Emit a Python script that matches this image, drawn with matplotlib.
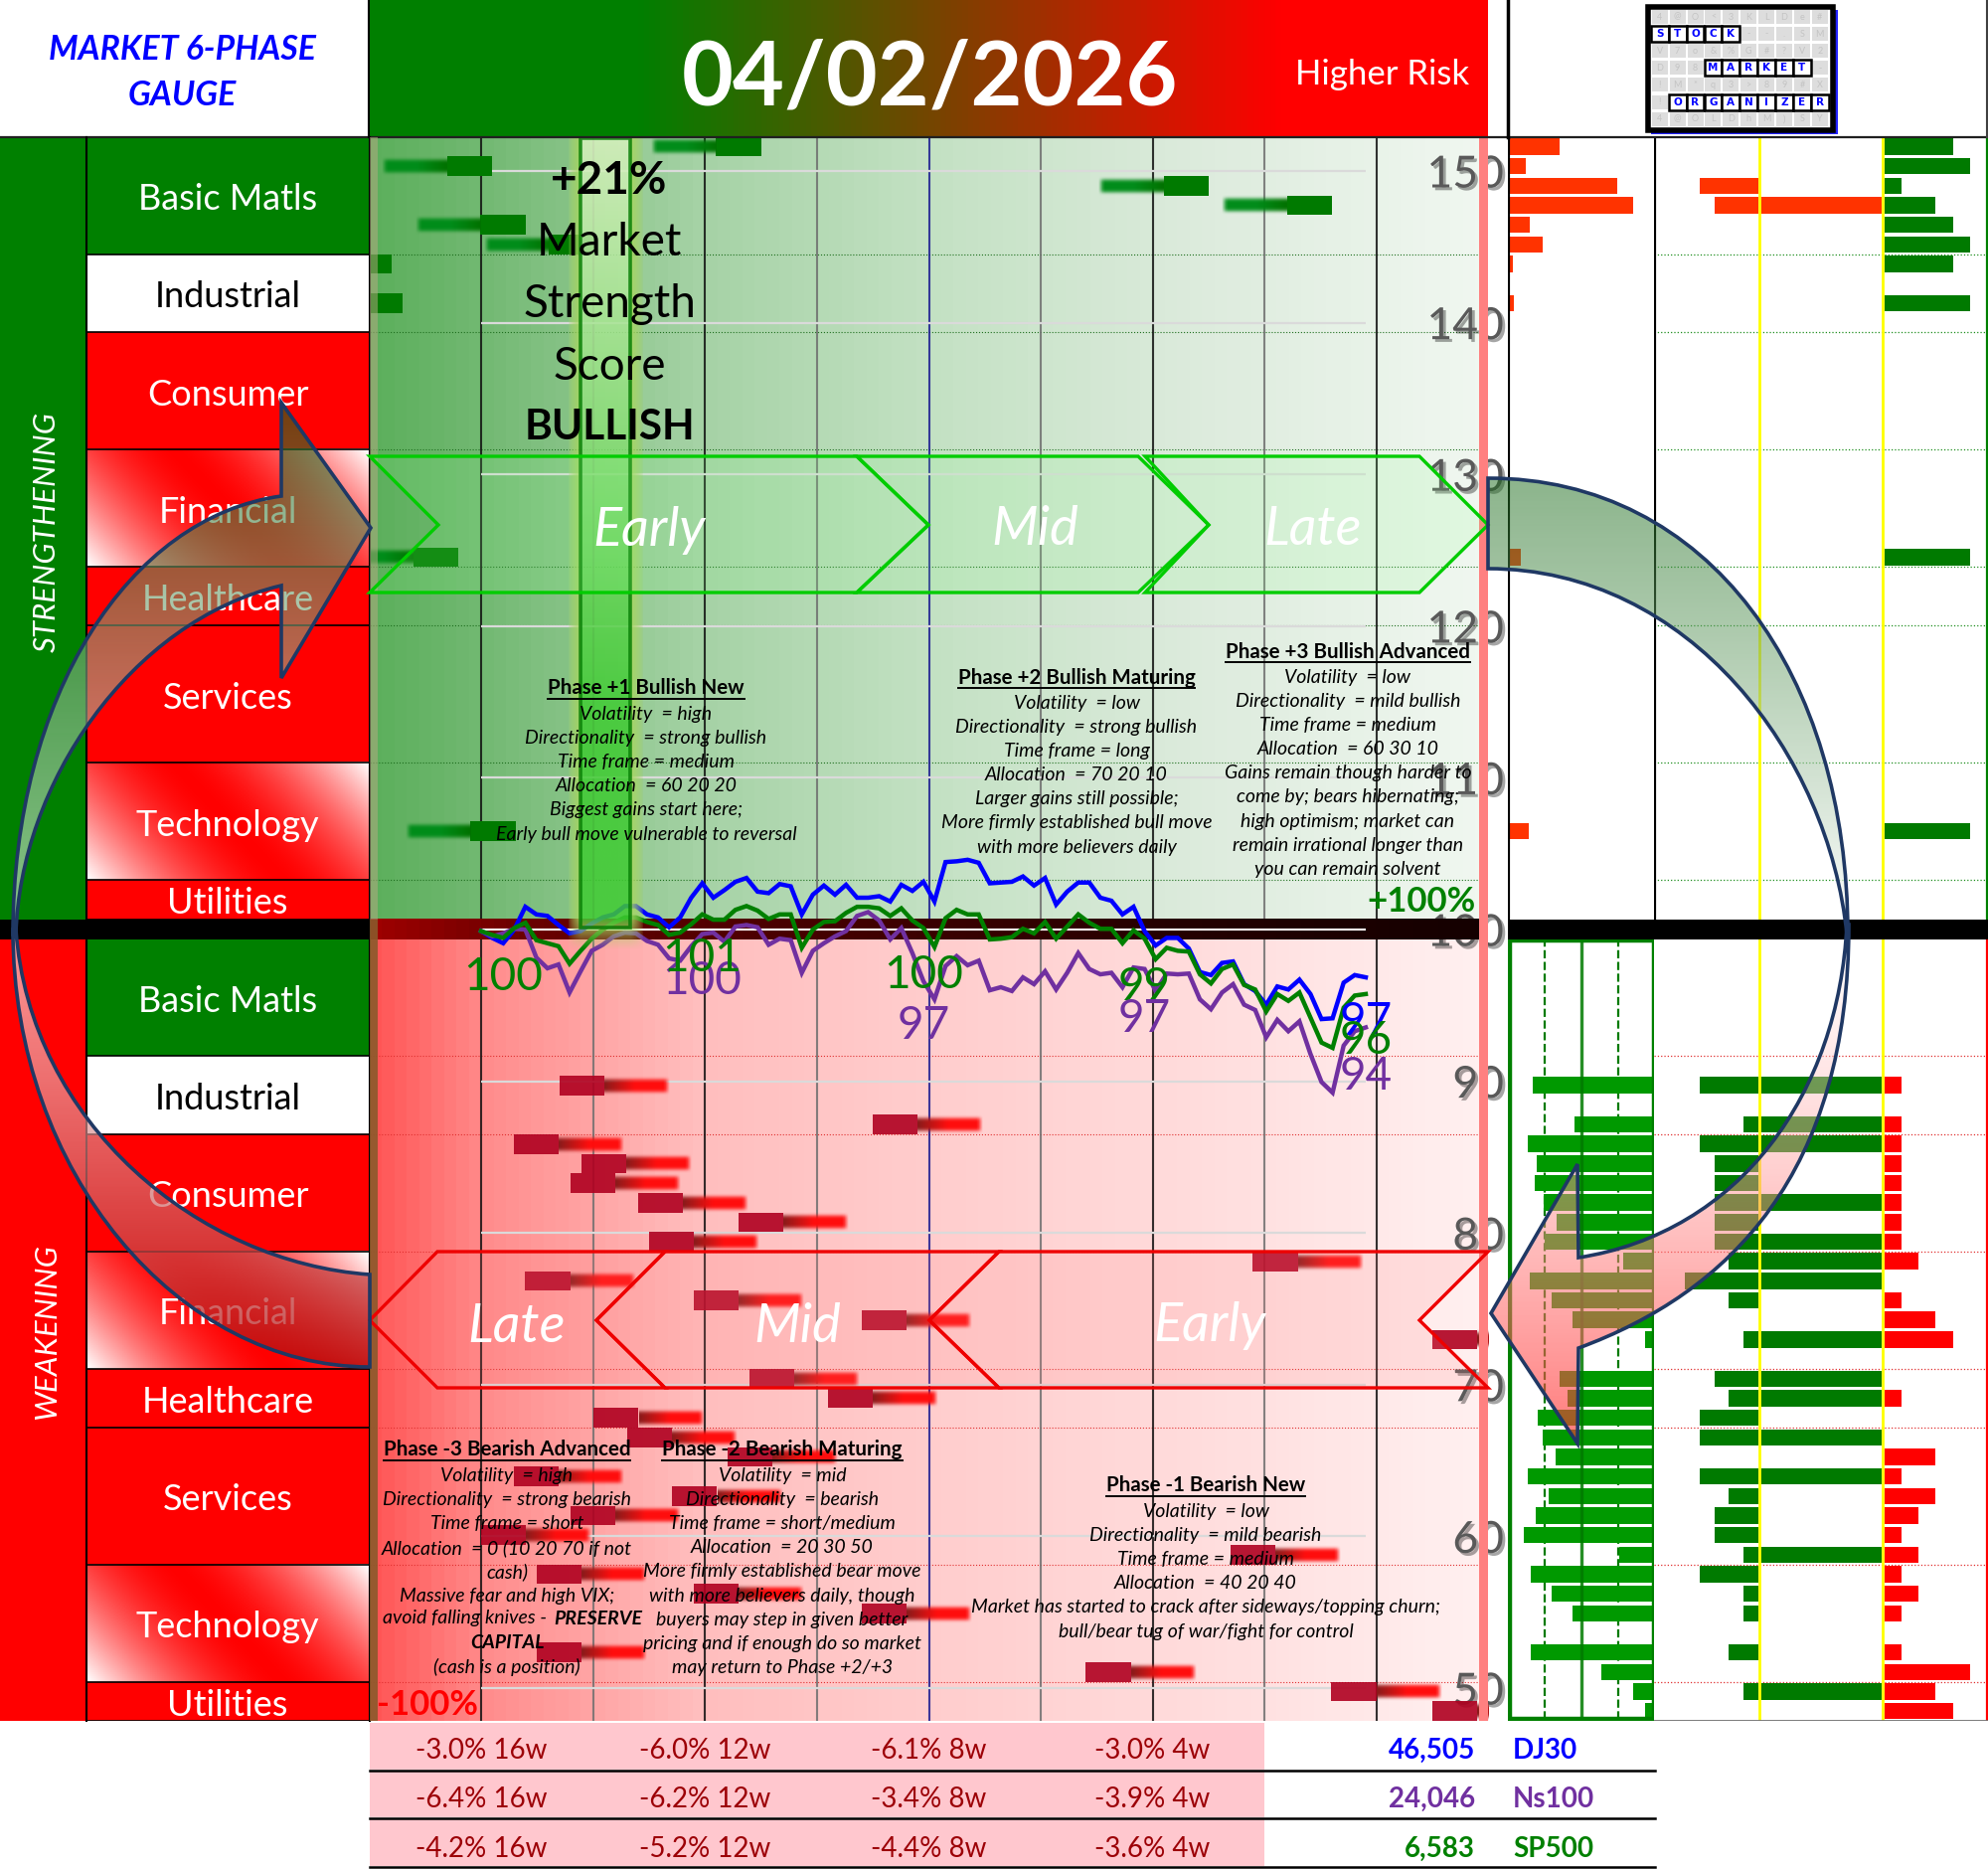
# Market 6-phase gauge, drawn in pixel layout on top of a few small axes
import numpy as np
import matplotlib
matplotlib.use("Agg")
import matplotlib.pyplot as plt
import matplotlib.patheffects as pe
from matplotlib.patches import Rectangle, Polygon, PathPatch
from matplotlib.path import Path

plt.rcParams['font.family'] = ['Lato', 'DejaVu Sans']

# ---- data ----
sector_names = ["Basic Matls", "Industrial", "Consumer", "Financial", "Healthcare", "Services", "Technology", "Utilities"]
sector_rows = [6, 4, 6, 6, 3, 7, 6, 2]
sector_fill = ["green", "white", "red", "grad", "red", "red", "grad", "red"]

# index lines, value against the 100 start
dj30 = [99.9, 99.45, 99.1, 100, 101.5, 101.0, 100.9, 100.3, 99.75, 99.9, 100.4, 100.8, 101.0, 101.55, 101.55, 101.0,
        100.8, 100.15, 100.8, 102.1, 103.05, 102.1, 102.6, 103.15, 103.4, 102.5, 102.4, 103.0, 102.85, 101.0, 102.3,
        102.9, 102.3, 102.95, 102.1, 102.1, 102.2, 101.85, 102.95, 102.55, 103.15, 101.85, 104.45, 104.5, 104.6, 104.4,
        103.05, 103.1, 103.15, 103.5, 102.9, 103.4, 101.65, 102.5, 103.1, 103.1, 102.1, 101.9, 101.0, 101.5, 99.9, 98.95,
        99.45, 99.45, 98.75, 97.2, 97, 97.8, 97.9, 96.4, 95.95, 95.05, 96.25, 96.05, 96.7, 95.75, 94.1, 94.15, 96.5, 97, 96.85]
sp500 = [99.9, 99.65, 99.45, 100.1, 100.45, 99.3, 99.1, 98.9, 97.75, 98.6, 99.4, 100, 100.45, 100.8, 100.8, 100.5, 100.3,
         99.65, 99.8, 100.35, 101, 100.65, 100.65, 101.3, 101.55, 101.25, 100.7, 101, 101, 98.8, 100, 100.5, 100.55, 101.1,
         101.5, 101.5, 101.4, 100.9, 101.4, 100.6, 100.1, 98.85, 100.75, 101.3, 101, 101, 99.35, 99.4, 99.5, 100.05, 99.75,
         100.5, 99.4, 100.2, 101, 100.45, 100.05, 100.05, 99.1, 99.95, 99.4, 98.05, 98.8, 98.6, 98.55, 97.05, 96.45, 97.4,
         97.7, 96.35, 96.05, 94.6, 95.75, 95.3, 95.85, 94.2, 92.55, 92.2, 94.85, 95.65, 95.75]
ns100 = [99.9, 99.55, 99.75, 100.05, 100, 98.15, 97.45, 97.7, 95.85, 97.25, 98.6, 99, 99.55, 99.8, 99.75, 99.25, 99, 98.1,
         97.95, 98.9, 99.7, 99.8, 99.2, 100.2, 100.3, 100.15, 99, 99.4, 99.3, 97.15, 98.6, 99.1, 99.55, 99.9, 100.9, 101.15,
         100.6, 99.35, 100.1, 98.45, 96.6, 95.4, 97.6, 98.25, 97.65, 97.95, 96, 96.2, 95.95, 96.85, 96.4, 97.25, 96.05, 97.15,
         98.45, 97.4, 97.05, 97.15, 96.2, 97.5, 97.4, 95.95, 97.1, 97.05, 97.1, 95.4, 94.75, 95.85, 96.4, 95.05, 94.7, 92.9,
         94.05, 93.3, 93.95, 91.8, 89.95, 89.25, 92.35, 93.3, 93.55]

# rows of the gauge that carry a green / red block, and where the block sits on the time axis
green_rows = [0, 1, 2, 3, 4, 5, 6, 8, 21, 35]
green_ends = [25.3, 1, 65.8, 76.9, 4, 10.2, -8.1, -7.1, -2.1, 3.1]
red_rows = [48, 50, 51, 52, 53, 54, 55, 56, 57, 58, 59, 60, 61, 63, 64, 65, 66, 67, 68, 69, 70, 71, 72, 73, 74, 75, 77, 78, 79, 80]
red_starts = [7.1, 35.4, 3, 9.1, 8.1, 14.2, 23.3, 15.2, 69.8, 4, 19.2, 34.4, 86, 24.3, 31.4, 10.2, 13.2, 22.3, 3, 17.3, 8.1, 0,
              67.8, 5, 19.2, 34.4, 5, 54.7, 76.9, 86]

# side panels, upper half
up_rows = [0, 1, 2, 3, 4, 5, 6, 8, 21, 35]
up_first = [50, 16, 108, 124, 20, 33, 3, 4, 11, 19]
up_left = [0, 0, 4, 3, 0, 0, 0, 0, 0, 0]
up_mid = [0, 0, 0, 1, 0, 0, 0, 0, 0, 0]
up_right = [4, 5, 1, 3, 4, 5, 4, 5, 5, 5]

# side panels, lower half
low_rows = [48, 50, 51, 52, 53, 54, 55, 56, 57, 58, 59, 60, 61, 63, 64, 65, 66, 67, 68, 69, 70, 71, 72, 73, 74, 75, 77, 78, 79, 80]
low_first = [121, 79, 126, 117, 119, 110, 97, 109, 30, 124, 102, 81, 8, 94, 86, 116, 111, 98, 126, 105, 118, 130, 34, 123, 102, 81, 123, 52, 20, 8]
low_left = [4, 1, 4, 3, 3, 3, 3, 3, 2, 5, 2, 0, 1, 3, 2, 4, 4, 0, 4, 2, 3, 3, 1, 4, 1, 1, 2, 0, 1, 0]
low_mid = [1, 1, 1, 0, 0, 1, 0, 1, 1, 1, 0, 0, 1, 1, 1, 0, 1, 0, 1, 0, 0, 0, 1, 0, 0, 0, 0, 0, 1, 0]
low_right = [1, 1, 1, 1, 1, 1, 1, 1, 2, 0, 1, 3, 4, 0, 1, 0, 0, 3, 1, 3, 2, 1, 2, 1, 2, 1, 1, 5, 3, 4]

y_ticks = [150, 140, 130, 120, 110, 100, 90, 80, 70, 60, 50]

# bottom table
table_weeks = ["16w", "12w", "8w", "4w"]
table_dj = ["-3.0%", "-6.0%", "-6.1%", "-3.0%"]
table_ns = ["-6.4%", "-6.2%", "-3.4%", "-3.9%"]
table_sp = ["-4.2%", "-5.2%", "-4.4%", "-3.6%"]
table_names = ["DJ30", "Ns100", "SP500"]
table_last = ["46,505", "24,046", "6,583"]
table_colors = ["#0000FF", "#7030A0", "#008000"]

phase_p1 = ["Volatility  = high", "Directionality  = strong bullish", "Time frame = medium", "Allocation  = 60 20 20",
            "Biggest gains start here;", "Early bull move vulnerable to reversal"]
phase_p2 = ["Volatility  = low", "Directionality  = strong bullish", "Time frame = long", "Allocation  = 70 20 10",
            "Larger gains still possible;", "More firmly established bull move", "with more believers daily"]
phase_p3 = ["Volatility  = low", "Directionality  = mild bullish", "Time frame = medium", "Allocation  = 60 30 10",
            "Gains remain though harder to", "come by; bears hibernating;", "high optimism; market can",
            "remain irrational longer than", "you can remain solvent"]
phase_m3 = ["Volatility  = high", "Directionality  = strong bearish", "Time frame = short", "Allocation  = 0 (10 20 70 if not",
            "cash)", "Massive fear and high VIX;", "", "", "(cash is a position)"]
phase_m2 = ["Volatility  = mid", "Directionality  = bearish", "Time frame = short/medium", "Allocation  = 20 30 50",
            "More firmly established bear move", "with more believers daily, though", "buyers may step in given better",
            "pricing and if enough do so market", "may return to Phase +2/+3"]
phase_m1 = ["Volatility  = low", "Directionality  = mild bearish", "Time frame = medium", "Allocation  = 40 20 40",
            "Market has started to crack after sideways/topping churn;", "bull/bear tug of war/fight for control"]

logo_noise = ["4@O<3KLDe#", "STOCK--.SM", "V7o&%G#?V2", "D98MARKET-", "!M*q3>89#X", "!ORGANIZER", "4@OLDhM)SY"]

# ---- layout helpers ----
W, H = 2000, 1880
fig = plt.figure(figsize=(20, 18.8), dpi=100, facecolor="white")

def px_axes(x0, y0, x1, y1, z=1):
    a = fig.add_axes([x0 / W, 1 - y1 / H, (x1 - x0) / W, (y1 - y0) / H], zorder=z)
    return a

top_px, bot_px = 137.7, 1731.0
v_top, v_bot = 152.25, 47.84

def row_v(r):
    return v_top - (np.asarray(r, dtype=float) + 0.5) * (v_top - v_bot) / 81

def px_v(p):
    return v_top - (p - top_px) / 15.26

def px_x(p):
    return (p - 484) / 11.125

# ---- sector column ----
ax_s = px_axes(87, top_px, 371, bot_px)
ax_s.set_xlim(0, 1)
ax_s.set_ylim(80.5, -0.5)
ax_s.set_autoscale_on(False)
ax_s.axis("off")

yy, xx = np.mgrid[0:1:60j, 0:1:120j]
tt = 0.72 * xx + 0.28 * (1 - yy)
white_part = np.abs(2 * tt - 1) ** 1.7
grad_img = np.dstack([np.ones_like(tt), white_part, white_part])

for start in [-0.5, 40.5]:
    r = start
    for name, n, fill in zip(sector_names, sector_rows, sector_fill):
        if fill == "grad":
            ax_s.imshow(grad_img, extent=(0, 1, r + n, r), aspect="auto", zorder=1)
        else:
            ax_s.barh(r + n / 2, 1, height=n, color={"green": "#008000", "white": "white", "red": "#FF0000"}[fill], zorder=1)
        ax_s.plot([0, 1], [r + n, r + n], color="black", lw=1.2, zorder=2, solid_capstyle="butt")
        ax_s.text(0.5, r + n / 2 + 0.2, name, color="black" if fill == "white" else "white", fontsize=26,
                  ha="center", va="center", zorder=3)
        r += n

# ---- main gauge ----
ax = px_axes(372, top_px, 1497, bot_px)
ax.set_xlim(px_x(372), px_x(1497))
ax.set_ylim(v_bot, v_top)
ax.set_autoscale_on(False)

# background colour runs from strong at the left to pale at the right
grad_x = np.linspace(372, 1497, 90)
stops = [372, 484, 700, 934, 1200, 1488]
up_col = np.dstack([np.interp(grad_x, stops, [92, 115, 165, 195, 220, 240]),
                    np.interp(grad_x, stops, [175, 185, 210, 225, 235, 247]),
                    np.interp(grad_x, stops, [92, 115, 165, 195, 220, 240])]) / 255
low_col = np.dstack([np.interp(grad_x, stops, [255, 255, 255, 255, 255, 255]),
                     np.interp(grad_x, stops, [85, 140, 190, 205, 220, 240]),
                     np.interp(grad_x, stops, [85, 140, 190, 205, 220, 240])]) / 255
ax.imshow(up_col, extent=(px_x(372), px_x(1497), px_v(935), v_top), aspect="auto", interpolation="nearest", zorder=0)
ax.imshow(low_col, extent=(px_x(372), px_x(1497), v_bot, px_v(935)), aspect="auto", interpolation="nearest", zorder=0)

# sector borders as dotted rules
edges = np.cumsum(sector_rows)
up_edges = -0.5 + edges[:-1]
low_edges = 40.5 + edges[:-1]
ax.hlines(row_v(up_edges), px_x(372), px_x(1497), color="#1E6E1E", lw=0.8, linestyles=":", zorder=1)
ax.hlines(row_v(low_edges), px_x(372), px_x(1497), color="#E03030", lw=0.8, linestyles=":", zorder=1)

# vertical week rules
for k in range(9):
    c = "#1A1A90" if k == 4 else ("#6E6E6E" if k % 2 else "#101010")
    ax.axvline(k * 10.125, color=c, lw=1.5, alpha=0.85, zorder=2)

# grey value rules
ax.hlines(y_ticks, 0, 80, color="#DADADA", lw=1.6, zorder=2)

# blocks with a blurred tail, green tails run left and red tails run right
def tail_image(rgb_near, rgb_far, flip):
    ny, nx = 21, 30
    vv = np.linspace(-1, 1, ny)[:, None]
    uu = np.linspace(0, 1, nx)[None, :]
    img = np.zeros((ny, nx, 4))
    for c in range(3):
        img[:, :, c] = rgb_near[c] + (rgb_far[c] - rgb_near[c]) * np.clip(uu * 2.2, 0, 1)
    img[:, :, 3] = np.exp(-(vv / 0.72) ** 4) * np.clip((1 - uu) * 12, 0, 1)
    if flip:
        img = img[:, ::-1, :]
    return img

green_tail = tail_image((0.0, 0.45, 0.0), (0.0, 0.55, 0.1), True)
red_tail = tail_image((0.55, 0.1, 0.1), (1.0, 0.05, 0.05), False)
row_h = (v_top - v_bot) / 81
for r, e in zip(green_rows, green_ends):
    ax.bar(e - 2.02, row_h, width=4.05, bottom=row_v(r) - row_h / 2, color="#007A00", zorder=3)
    ax.imshow(green_tail, extent=(e - 10.05, e - 4.05, row_v(r) - row_h * 0.5, row_v(r) + row_h * 0.5),
              aspect="auto", interpolation="bilinear", zorder=3)
for r, s in zip(red_rows, red_starts):
    ax.bar(s + 2.02, row_h, width=4.05, bottom=row_v(r) - row_h / 2, color="#B00020", alpha=0.9, zorder=3)
    ax.imshow(red_tail, extent=(s + 4.05, s + 10.05, row_v(r) - row_h * 0.5, row_v(r) + row_h * 0.5),
              aspect="auto", interpolation="bilinear", zorder=3)

# dark band at the zero line
band = np.dstack([np.interp(grad_x, [372, 520, 800, 1200, 1497], [0.62, 0.42, 0.28, 0.14, 0.08])[None, :],
                  np.zeros((1, 90)), np.zeros((1, 90))])
ax.imshow(band, extent=(px_x(372), px_x(1497), px_v(945), px_v(925)), aspect="auto", zorder=4)
ax.hlines([100], 0, 80, color="white", lw=1.5, zorder=4.5)

# index lines
xs = np.arange(len(dj30))
ax.plot(xs, dj30, color="#0000FF", lw=3.2, zorder=5, solid_joinstyle="miter")
ax.plot(xs, ns100, color="#7030A0", lw=3.2, zorder=5, solid_joinstyle="miter")
ax.plot(xs, sp500, color="#008000", lw=3.2, zorder=5, solid_joinstyle="miter")

# highlighted phase column with its glow
yy2, xx2 = np.mgrid[0:1:80j, 0:1:70j]
in_box = (xx2 > 0.17) & (xx2 < 0.82) & (yy2 < 0.967)
edge_f = np.clip(np.minimum(xx2, 1 - xx2) / 0.17, 0, 1) ** 0.6
foot = np.clip((1 - yy2) / 0.033, 0, 1)
top_mix = np.clip(yy2 / 0.7, 0, 1)
hl = np.zeros(xx2.shape + (4,))
hl[:, :, 0] = 0.66
hl[:, :, 1] = 0.84
hl[:, :, 2] = 0.38
hl[:, :, 3] = 0.9 * edge_f * foot
hl[in_box, 0] = (0.85 - 0.60 * top_mix)[in_box]
hl[in_box, 1] = (0.95 - 0.15 * top_mix)[in_box]
hl[in_box, 2] = (0.75 - 0.55 * top_mix)[in_box]
hl[in_box, 3] = 0.85
ax.imshow(hl, extent=(px_x(571), px_x(648), px_v(960), v_top), aspect="auto", interpolation="bilinear", zorder=6)
ax.add_patch(Rectangle((px_x(584), px_v(933)), px_x(634) - px_x(584), px_v(139) - px_v(933), fill=False,
                       edgecolor="#007A00", lw=2.6, alpha=0.8, zorder=6.5))

# pink strip on the right edge, tick labels stay on top of it
ax.axvspan(px_x(1488), px_x(1497), facecolor="#FF8080", edgecolor="none", zorder=6.8)

# value labels along the lines
val_style = dict(fontsize=33, ha="center", va="center", zorder=7)
ax.text(2, px_v(983), "100", color="#008000", **val_style)
ax.text(20, px_v(987), "100", color="#7030A0", **val_style)
ax.text(20, px_v(964), "101", color="#008000", **val_style)
ax.text(40, px_v(981), "100", color="#008000", **val_style)
ax.text(40, px_v(1032), "97", color="#7030A0", **val_style)
ax.text(60, px_v(993), "99", color="#008000", **val_style)
ax.text(60, px_v(1025), "97", color="#7030A0", **val_style)
ax.text(80, px_v(1028), "97", color="#0000FF", **val_style)
ax.text(80, px_v(1047), "96", color="#008000", **val_style)
ax.text(80, px_v(1083), "94", color="#7030A0", **val_style)

ax.set_xticks([])
ax.set_yticks(y_ticks)
ax.yaxis.tick_right()
ax.tick_params(axis="y", length=0, pad=11.5, labelsize=32, labelcolor="#595959")
for lab in ax.get_yticklabels():
    lab.set_ha("right")
    lab.set_path_effects([pe.SimplePatchShadow(offset=(2, -2), shadow_rgbFace="#000000", alpha=0.35), pe.Normal()])
for sp in ax.spines.values():
    sp.set_visible(False)

# ---- first side panel ----
ax_a = px_axes(1517, top_px, 1664, bot_px, z=2)
ax_a.set_xlim(0, 147)
ax_a.set_ylim(80.5, -0.5)
ax_a.axis("off")
ax_a.barh(up_rows, up_first, left=1.5, height=0.84, color="#FF3300", zorder=2)
ax_a.barh(low_rows, low_first, left=145.5 - np.array(low_first), height=0.84, color="#009900", zorder=2)
ax_a.plot([37, 37], [40.5, 80.5], color="#007A00", lw=1.6, ls="--", zorder=1)
ax_a.plot([111, 111], [40.5, 80.5], color="#007A00", lw=1.6, ls="--", zorder=1)
ax_a.plot([74, 74], [40.5, 80.5], color="#007A00", lw=2.4, alpha=0.85, zorder=3)
ax_a.add_patch(Rectangle((1.5, 40.6), 145, 39.8, fill=False, edgecolor="#008000", lw=3.2, zorder=4))
ax_a.plot([0, 0], [-0.5, 39.5], color="black", lw=3, zorder=4)

# ---- second side panel: zero at the second yellow line ----
ax_b = px_axes(1664, top_px, 2000, bot_px, z=2)
ax_b.set_xlim(-230, 106)
ax_b.set_ylim(80.5, -0.5)
ax_b.axis("off")

def mid_panel(rows, left, mid, right, col_mid, col_right):
    left, mid, right = np.array(left), np.array(mid), np.array(right)
    ax_b.barh(rows, left * 14.8, left=-125 - left * 14.8, height=0.84, color=col_mid, zorder=2)
    ax_b.barh(rows, mid * 122.0, left=-123, height=0.84, color=col_mid, zorder=2)
    ax_b.barh(rows, right * 17.3, left=1.5, height=0.84, color=col_right, zorder=2)

mid_panel(up_rows, up_left, up_mid, up_right, "#FF3300", "#007A00")
mid_panel(low_rows, low_left, low_mid, low_right, "#007A00", "#FF0000")
ax_b.hlines(up_edges, -230, 106, color="#1E8E1E", lw=0.9, linestyles=":", zorder=1)
ax_b.hlines(low_edges, -230, 106, color="#E03030", lw=0.9, linestyles=":", zorder=1)
ax_b.axvline(-124, color="#FFFF00", lw=2.0, zorder=3)
ax_b.axvline(0, color="#FFFF00", lw=2.0, zorder=3)
ax_b.plot([-230, -230], [-0.5, 39.5], color="black", lw=3, zorder=4)
ax_b.plot([105, 105], [-0.5, 39.5], color="#008000", lw=1.6, zorder=4)
ax_b.plot([105, 105], [40.5, 80.5], color="#FF0000", lw=1.6, zorder=4)
ax_b.plot([-230, 106], [80.5, 80.5], color="#707070", lw=2, zorder=4)

# ---- overlay in pixels: frames, text, chevrons, arrows ----
ov = fig.add_axes([0, 0, 1, 1], zorder=10)
ov.set_xlim(0, W)
ov.set_ylim(H, 0)
ov.set_autoscale_on(False)
ov.axis("off")
ov.patch.set_alpha(0)

# header
ov.add_patch(Rectangle((0, 0), 371, 138, facecolor="white", edgecolor="none", zorder=1))
head_x = np.linspace(372, 1497, 200)
head = np.dstack([np.interp(head_x, [640, 1290], [0, 1])[None, :], np.interp(head_x, [640, 1290], [0.5, 0])[None, :], np.zeros((1, 200))])
ov.imshow(head, extent=(372, 1497, 138, 0), aspect="auto", zorder=1)
ov.text(183, 50, "MARKET 6-PHASE", color="#0000FF", fontsize=24.3, fontweight="bold", style="italic", ha="center", va="center", zorder=3)
ov.text(183, 96, "GAUGE", color="#0000FF", fontsize=24.3, fontweight="bold", style="italic", ha="center", va="center", zorder=3)
ov.text(935, 79, "04/02/2026", color="white", fontsize=64.5, fontweight="bold", ha="center", va="center", zorder=3)
ov.text(1391, 75, "Higher Risk", color="white", fontsize=25, ha="center", va="center", zorder=3)
ov.plot([0, 2000], [138, 138], color="#202020", lw=1.6, zorder=2)
ov.plot([1517, 1517], [0, 138], color="black", lw=2.5, zorder=2)
ov.plot([1999, 1999], [0, 138], color="#404040", lw=1.5, zorder=2)
ov.plot([371, 371], [0, 138], color="black", lw=1.5, zorder=2)

# far left column with the two vertical titles
ov.add_patch(Rectangle((0, 138), 87, 787, facecolor="#008000", edgecolor="none", zorder=1))
ov.add_patch(Rectangle((0, 945), 87, 786, facecolor="#FF0000", edgecolor="none", zorder=1))
ov.plot([87, 87], [138, 1731], color="black", lw=1.5, zorder=2)
ov.plot([371.5, 371.5], [138, 1731], color="black", lw=1.5, zorder=2)
narrow = ['Liberation Sans Narrow', 'Lato']
ov.text(47, 535, "STRENGTHENING", color="white", fontsize=22.5, style="italic", family=narrow, rotation=90, ha="center", va="center", zorder=3)
ov.text(47, 1340, "WEAKENING", color="white", fontsize=22.5, style="italic", family=narrow, rotation=90, ha="center", va="center", zorder=3)

# black band over the columns and panels, strip on the gauge edge
ov.add_patch(Rectangle((0, 925), 371, 20, facecolor="black", edgecolor="none", zorder=2))
ov.add_patch(Rectangle((1517, 925), 483, 20, facecolor="black", edgecolor="none", zorder=1.5))
ov.add_patch(Rectangle((372, 138), 8, 787, facecolor="#B0A880", alpha=0.55, edgecolor="none", zorder=2))
ov.add_patch(Rectangle((372, 925), 8, 806, facecolor="#8B5A2B", alpha=0.9, edgecolor="none", zorder=2))

# chevrons
chev_up = [[(372, 459), (862, 459), (934, 528), (862, 596), (372, 596), (441, 528)],
           [(862, 459), (1145, 459), (1216, 528), (1145, 596), (862, 596), (934, 528)],
           [(1152, 459), (1428, 459), (1497, 528), (1428, 596), (1152, 596), (1216, 528)]]
chev_low = [[(372, 1328), (440, 1259), (669, 1259), (600, 1328), (669, 1396), (440, 1396)],
            [(600, 1328), (669, 1259), (1005, 1259), (935, 1328), (1005, 1396), (669, 1396)],
            [(935, 1328), (1005, 1259), (1497, 1259), (1428, 1328), (1497, 1396), (1005, 1396)]]
for pts in chev_up:
    ov.add_patch(Polygon(pts, closed=True, facecolor=(0.55, 1, 0.55, 0.15), edgecolor="#00CC00", lw=2.4, zorder=3))
for pts in chev_low:
    ov.add_patch(Polygon(pts, closed=True, facecolor=(1, 0.5, 0.5, 0.15), edgecolor="#EE0000", lw=2.4, zorder=3))
chev_text = dict(color="white", fontsize=39, style="italic", ha="center", va="center", zorder=4)
ov.text(653, 533, "Early", **chev_text)
ov.text(1041, 533, "Mid", **chev_text)
ov.text(1321, 533, "Late", **chev_text)
ov.text(520, 1334, "Late", **chev_text)
ov.text(802, 1334, "Mid", **chev_text)
ov.text(1217, 1334, "Early", **chev_text)

# score text
ov.text(613, 182, "+21%", color="black", fontsize=33, fontweight="bold", ha="center", va="center", zorder=4)
ov.text(613, 244, "Market", color="black", fontsize=33, ha="center", va="center", zorder=4)
ov.text(613, 306, "Strength", color="black", fontsize=33, ha="center", va="center", zorder=4)
ov.text(613, 369, "Score", color="black", fontsize=33, ha="center", va="center", zorder=4)
ov.text(613, 430, "BULLISH", color="black", fontsize=30.5, fontweight="bold", ha="center", va="center", zorder=4)
ov.text(1430, 907, "+100%", color="#008000", fontsize=25, fontweight="bold", ha="center", va="center", zorder=4)
ov.text(430, 1715, "-100%", color="#FF0000", fontsize=25, fontweight="bold", ha="center", va="center", zorder=4)

# phase notes
rend = fig.canvas.get_renderer()
def phase_note(cx, y0, title, lines):
    t = ov.text(cx, y0 + 1.5, title, color="black", fontsize=14.8, fontweight="bold", ha="center", va="center", zorder=4)
    bb = t.get_window_extent(rend).transformed(ov.transData.inverted())
    ov.plot([bb.x0, bb.x1], [y0 + 12, y0 + 12], color="black", lw=1.4, zorder=4)
    for n, line in enumerate(lines):
        if line:
            ov.text(cx, y0 + 27.5 + n * 24.1, line, color="black", fontsize=14, style="italic", ha="center", va="center", zorder=4)

phase_note(650, 691, "Phase +1 Bullish New", phase_p1)
phase_note(1083, 680, "Phase +2 Bullish Maturing", phase_p2)
phase_note(1356, 654, "Phase +3 Bullish Advanced", phase_p3)
phase_note(510, 1457, "Phase -3 Bearish Advanced", phase_m3)
phase_note(787, 1457, "Phase -2 Bearish Maturing", phase_m2)
phase_note(1213, 1493, "Phase -1 Bearish New", phase_m1)
ov.text(550, 1628, "avoid falling knives -", color="black", fontsize=14, style="italic", ha="right", va="center", zorder=4)
ov.text(557, 1628, "PRESERVE", color="black", fontsize=14, style="italic", fontweight="bold", ha="left", va="center", zorder=4)
ov.text(510, 1652, "CAPITAL", color="black", fontsize=14, style="italic", fontweight="bold", ha="center", va="center", zorder=4)

# bottom table
row_tops = [1733, 1781, 1830]
for k, vals in enumerate([table_dj, table_ns, table_sp]):
    ov.add_patch(Rectangle((372, row_tops[k]), 900, 47, facecolor="#FFC7CE", edgecolor="none", zorder=1))
    ymid = row_tops[k] + 28 + k
    for cx, v, wk in zip([484, 709, 934, 1159], vals, table_weeks):
        ov.text(cx, ymid, v + " " + wk, color="#9C0006", fontsize=20, ha="center", va="center", zorder=3)
    ov.text(1484, ymid, table_last[k], color=table_colors[k], fontsize=20, fontweight="bold", ha="right", va="center", zorder=3)
    ov.text(1522, ymid, table_names[k], color=table_colors[k], fontsize=20, fontweight="bold", ha="left", va="center", zorder=3)
    ov.plot([372, 1665], [row_tops[k] + 47.5, row_tops[k] + 47.5], color="black", lw=1.8, zorder=3)

# logo
ov.add_patch(Rectangle((1661, 10), 188, 125, facecolor="#2222FF", edgecolor="none", zorder=1))
ov.add_patch(Rectangle((1658, 7), 186, 124, facecolor="white", edgecolor="black", lw=4, zorder=1.2))
for r, word in enumerate(logo_noise):
    for c, ch in enumerate(word):
        cx, cy = 1669.7 + c * 17.9, 17 + r * 17.1
        ov.add_patch(Rectangle((cx - 8, cy - 7), 16, 14, facecolor="#DDDDDD", edgecolor="none", zorder=1.3))
        ov.text(cx, cy, ch, color="#C4C4C4", fontsize=6.5, ha="center", va="center", zorder=1.4)
logo_words = [("STOCK", 1, 0), ("MARKET", 3, 3), ("ORGANIZER", 5, 1)]
for word, r, c0 in logo_words:
    for c, ch in enumerate(word):
        cx, cy = 1669.7 + (c0 + c) * 17.9, 17 + r * 17.1
        ov.add_patch(Rectangle((cx - 8.9, cy - 8), 17.8, 16, facecolor="white", edgecolor="black", lw=1.8, zorder=1.5))
        ov.text(cx, cy, ch, color="#0000FF", fontsize=7.5, fontweight="bold", family="DejaVu Sans", ha="center", va="center", zorder=1.6)

# curved arrows, filled with a see-through vertical gradient
def grad_patch(verts, codes, c_top, c_bot):
    path = Path(verts, codes)
    patch = PathPatch(path, facecolor="none", edgecolor="#1F3864", lw=2.6, zorder=8.5)
    ov.add_patch(patch)
    x0, y0 = np.min(path.vertices, axis=0)
    x1, y1 = np.max(path.vertices, axis=0)
    ramp = np.linspace(0, 1, 128)[:, None, None]
    img = np.array(c_top)[None, None, :] * (1 - ramp) + np.array(c_bot)[None, None, :] * ramp
    im = ov.imshow(img, extent=(x0, x1, y1, y0), aspect="auto", interpolation="bilinear", zorder=8)
    im.set_clip_path(PathPatch(path, transform=ov.transData))

M, C, L, Z = Path.MOVETO, Path.CURVE4, Path.LINETO, Path.CLOSEPOLY

# upper left, rising to the strengthening side
grad_patch([(13, 940), (13, 700), (130, 520), (283, 499), (283, 405), (373, 531), (283, 682), (283, 589),
            (130, 625), (20, 790), (16, 940), (13, 940)],
           [M, C, C, C, L, L, L, L, C, C, C, Z], (0.1, 0.4, 0.1, 0.62), (1, 1, 1, 0.55))
# lower left, horn shape
grad_patch([(13, 935), (13, 1180), (180, 1375), (372, 1375), (372, 1282), (200, 1270), (30, 1130), (16, 935), (13, 935)],
           [M, C, C, C, L, C, C, C, Z], (1, 1, 1, 0.6), (0.7, 0.05, 0.05, 0.75))
# upper right, horn shape
grad_patch([(1497, 481), (1720, 481), (1859, 680), (1859, 940), (1858, 940), (1840, 760), (1700, 572), (1497, 572), (1497, 481)],
           [M, C, C, C, L, C, C, C, Z], (0.1, 0.42, 0.1, 0.5), (1, 1, 1, 0.6))
# lower right, falling to the weakening side
grad_patch([(1858, 930), (1850, 1100), (1750, 1240), (1588, 1265), (1587, 1171), (1500, 1321), (1587, 1452), (1588, 1356),
            (1740, 1300), (1860, 1180), (1860, 930), (1858, 930)],
           [M, C, C, C, L, L, L, L, C, C, C, Z], (1, 1, 1, 0.35), (1, 0.2, 0.2, 0.65))

fig.savefig("out.png", dpi=100)
